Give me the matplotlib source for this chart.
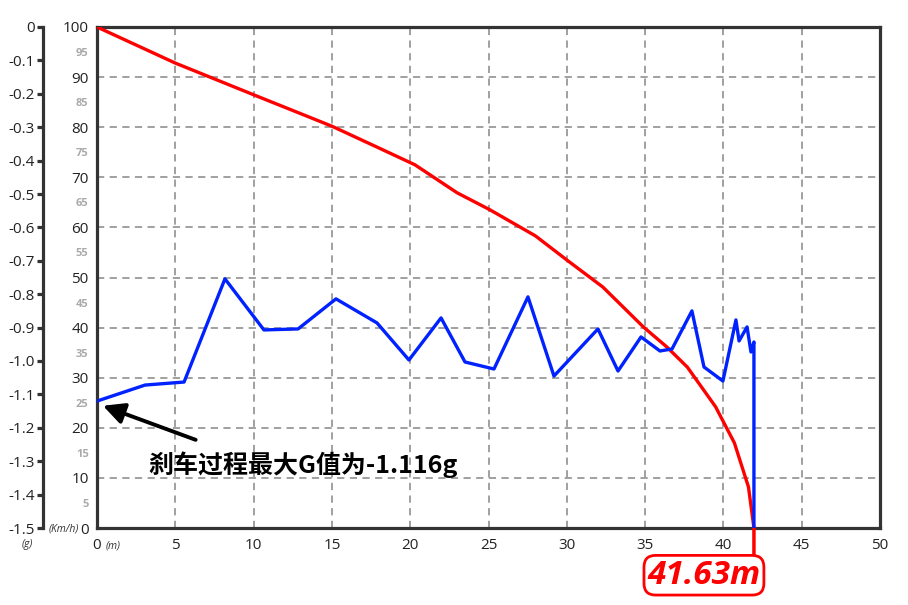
import numpy as np
import matplotlib
matplotlib.use("Agg")
import matplotlib.pyplot as plt

plt.rcParams['font.family'] = ['Open Sans', 'Noto Sans CJK SC', 'DejaVu Sans']

# speed curve (km/h) vs braking distance (m)
speed_dist = [0, 5.0, 9.9, 15.0, 17.9, 20.3, 23.0, 25.1, 28.0, 30.0, 32.3,
              34.9, 36.4, 37.7, 39.5, 40.7, 41.6, 41.95]
speed_kmh = [100, 92.8, 86.6, 80.2, 76.0, 72.5, 66.9, 63.5, 58.3, 53.5, 48.1,
             40.1, 36.1, 32.1, 24.2, 17.0, 8.2, 0]

# deceleration (g) vs braking distance (m)
g_dist = [0, 3.07, 5.56, 8.17, 10.66, 12.84, 15.26, 17.88, 19.92, 21.97,
          23.50, 25.35, 27.52, 29.18, 31.99, 33.27, 34.74, 35.95, 36.72,
          37.99, 38.76, 39.97, 40.80, 41.00, 41.51, 41.76, 41.95, 41.95]
g_vals = [-1.12, -1.072, -1.063, -0.754, -0.907, -0.904, -0.814, -0.886,
          -0.997, -0.871, -1.003, -1.024, -0.808, -1.045, -0.904, -1.030,
          -0.928, -0.970, -0.964, -0.850, -1.018, -1.060, -0.877, -0.940,
          -0.898, -0.973, -0.943, -1.5]

x_ticks = list(range(0, 51, 5))
v_major = list(range(0, 101, 10))
v_minor = list(range(5, 100, 10))
g_ticks = [round(-0.1 * i, 1) for i in range(16)]
g_labels = ['0'] + ['%.1f' % t for t in g_ticks[1:]]

stop_label = '41.63m'
note_text = '刹车过程最大G值为-1.116g'

dark = '#333333'
fig = plt.figure(figsize=(9.08, 6.05), dpi=100)
ax = fig.add_axes([97 / 908, 1 - 528 / 605, (880 - 97) / 908, (528 - 27) / 605])

ax.set_xlim(0, 50)
ax.set_ylim(0, 100)
for s in ax.spines.values():
    s.set_linewidth(2.3)
    s.set_color(dark)

ax.set_xticks(x_ticks)
ax.set_yticks(v_major)
ax.set_yticks(v_minor, minor=True)
ax.set_yticklabels([str(v) for v in v_minor], minor=True)
ax.tick_params(axis='both', which='major', length=0, labelsize=11, colors='#222222')
ax.tick_params(axis='x', pad=7)
ax.tick_params(axis='y', which='major', pad=6)
ax.tick_params(axis='y', which='minor', length=0, labelsize=8, labelcolor='#aaaaaa', pad=6)
for lbl in ax.get_yticklabels(minor=True):
    lbl.set_fontweight('bold')

ax.grid(True, which='major', color='#999999', linestyle=(0, (4, 3)), linewidth=1.3)

ax.plot(speed_dist, speed_kmh, color='#ff0000', linewidth=2.4, zorder=3)

# g axis on the far left
ax2 = ax.twinx()
ax2.set_ylim(-1.5, 0)
ax2.yaxis.set_ticks_position('left')
ax2.yaxis.set_label_position('left')
for name in ['right', 'top', 'bottom']:
    ax2.spines[name].set_visible(False)
ax2.spines['left'].set_visible(True)
ax2.spines['left'].set_position(('outward', 39))
ax2.spines['left'].set_linewidth(2.3)
ax2.spines['left'].set_color(dark)
ax2.set_yticks(g_ticks)
ax2.set_yticklabels(g_labels)
ax2.tick_params(axis='y', direction='out', length=4, width=2.3, color=dark,
                labelsize=11, labelcolor='#222222', pad=2)

ax2.plot(g_dist, g_vals, color='#0022ff', linewidth=2.4, zorder=4)

# unit labels
fig.text(106 / 908, 1 - 546 / 605, '(m)', fontsize=7.5, style='italic', color='#333333',
         ha='left', va='center')
fig.text(64 / 908, 1 - 529 / 605, '(Km/h)', fontsize=7.5, style='italic', color='#333333',
         ha='center', va='center')
fig.text(27 / 908, 1 - 544 / 605, '(g)', fontsize=7.5, style='italic', color='#333333',
         ha='center', va='center')

# max G note
ax.annotate('', xy=(0.38, 24.4), xytext=(6.3, 17.6),
            arrowprops=dict(arrowstyle='-|>', color='black', lw=2.8, mutation_scale=32,
                            shrinkA=0, shrinkB=0), zorder=5)
ax.text(3.25, 12.6, note_text, fontsize=18, fontweight='bold', color='black',
        family=['Noto Sans CJK SC', 'DejaVu Sans'], ha='left', va='center', zorder=5)

# stopping distance label: vertical stem + boxed text
ax.annotate('', xy=(speed_dist[-1], 0), xytext=(0, -23),
            textcoords='offset points',
            arrowprops=dict(arrowstyle='-', color='#ff0000', lw=2.5, shrinkA=0, shrinkB=0),
            annotation_clip=False, zorder=6)
ax.annotate(stop_label, xy=(speed_dist[-1], 0), xytext=(-36, -34),
            textcoords='offset points', ha='center', va='center',
            fontsize=24, fontweight='bold', style='italic', color='#ff0000',
            bbox=dict(boxstyle='round,pad=0.1,rounding_size=0.35', fc='white',
                      ec='#ff0000', lw=2),
            annotation_clip=False, zorder=7)

fig.savefig('out.png', dpi=100)
